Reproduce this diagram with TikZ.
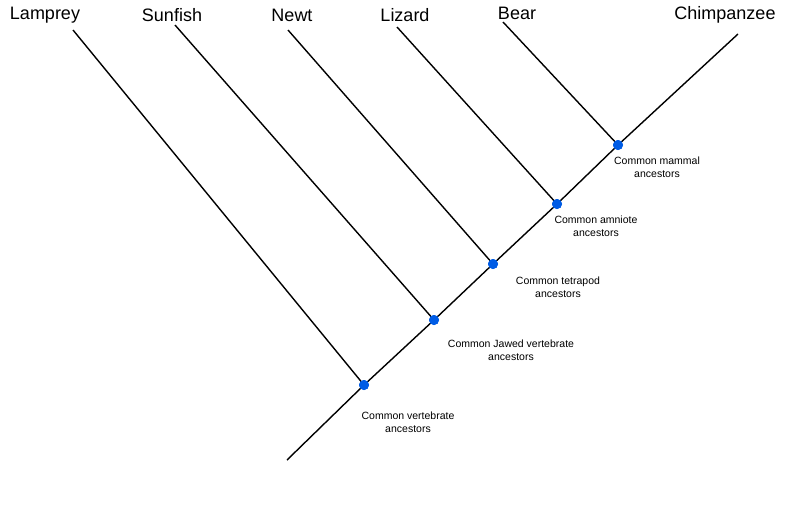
\documentclass[tikz,border=0pt]{standalone}
\usepackage{fontspec}
\setmainfont{Liberation Sans}
\begin{document}
\begin{tikzpicture}[x=1pt,y=-1pt,
  br/.style={line width=1.4pt,black},
  dot/.style={circle,fill=blue!60!cyan!90!black,inner sep=0pt,minimum size=10pt},
  tip/.style={font=\fontsize{18}{20}\selectfont},
  lab/.style={font=\fontsize{10.5}{13}\selectfont,align=center}]
\useasboundingbox (0,0) rectangle (787,507);
\coordinate (root) at (287,460);
\coordinate (chimp) at (738,34);
\node[dot] (n1) at (364,385) {};
\node[dot] (n2) at (434,320) {};
\node[dot] (n3) at (493,264) {};
\node[dot] (n4) at (557,204) {};
\node[dot] (n5) at (618,145) {};
\coordinate (lam) at (73,30);
\coordinate (sun) at (175,25);
\coordinate (newt) at (288,30);
\coordinate (liz) at (397,27);
\coordinate (bear) at (503,22);
\draw[br] (root) -- (n1.center) -- (n2.center) -- (n3.center) -- (n4.center) -- (n5.center) -- (chimp);
\draw[br] (lam) -- (n1.center);
\draw[br] (sun) -- (n2.center);
\draw[br] (newt) -- (n3.center);
\draw[br] (liz) -- (n4.center);
\draw[br] (bear) -- (n5.center);
\foreach \n in {n1,n2,n3,n4,n5} \node[dot] at (\n) {};
\node[tip] (t1) at (45,15) {Lamprey};
\node[tip] (t2) at (172,15) {Sunfish};
\node[tip] (t3) at (292,15) {Newt};
\node[tip] (t4) at (405,15) {Lizard};
\node[tip] (t5) at (517,13) {Bear};
\node[tip] (t6) at (725,15) {Chimpanzee};
\node[lab] (l5) at (657,167) {Common mammal\\ancestors};
\node[lab] (l4) at (596,226) {Common amniote\\ancestors};
\node[lab] (l3) at (558,287) {Common tetrapod\\ancestors};
\node[lab] (l2) at (511,350) {Common Jawed vertebrate\\ancestors};
\node[lab] (l1) at (408,422) {Common vertebrate\\ancestors};
\end{tikzpicture}
\end{document}
